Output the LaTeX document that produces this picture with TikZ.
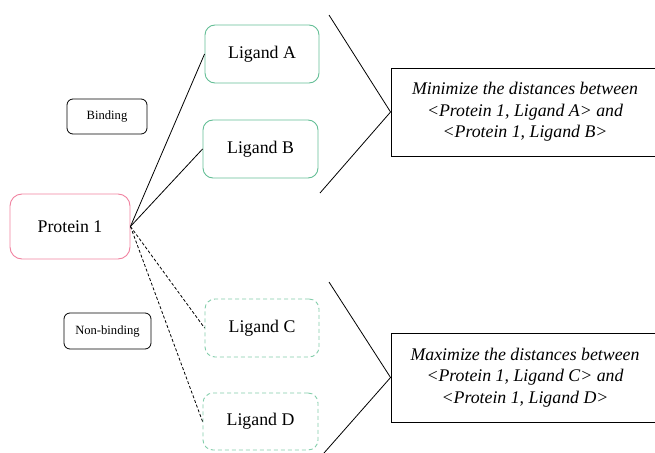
\documentclass[tikz,border=0pt]{standalone}
\usepackage{fontspec}
\setmainfont{Liberation Serif}
\definecolor{pinkb}{RGB}{240,130,160}
\definecolor{greenb}{RGB}{100,190,150}
\definecolor{greenl}{RGB}{130,205,170}
\begin{document}
\begin{tikzpicture}[x=1pt,y=1pt,
  protbox/.style={draw=pinkb, line width=0.9pt, rounded corners=12pt, minimum width=120pt, minimum height=65pt, font=\fontsize{17.8}{21}\selectfont, inner sep=0pt},
  ligbox/.style={draw=greenb, line width=0.9pt, rounded corners=10pt, minimum width=114pt, minimum height=58pt, font=\fontsize{17.8}{21}\selectfont, inner sep=0pt},
  ligdash/.style={ligbox, draw=greenl, dash pattern=on 4pt off 3pt},
  tagbox/.style={draw=black, line width=0.8pt, rounded corners=6pt, font=\fontsize{12.6}{15}\selectfont, inner sep=0pt},
  goalbox/.style={draw=black, line width=0.9pt, minimum width=268pt, align=center, font=\fontsize{17.8}{21.5}\selectfont\itshape, inner sep=0pt},
  conn/.style={draw=black, line width=0.8pt},
  dconn/.style={conn, dash pattern=on 3pt off 2pt}
]
\useasboundingbox (0,0) rectangle (655,-452);
\node[protbox] (p1) at (70,-226.5) {Protein 1};
\node[ligbox] (la) at (262,-54) {Ligand A};
\node[ligbox, minimum width=115pt] (lb) at (260.5,-149) {Ligand B};
\node[ligdash] (lc) at (262,-328) {Ligand C};
\node[ligdash, minimum width=115pt, minimum height=57pt] (ld) at (260.5,-421.5) {Ligand D};
\node[tagbox, minimum width=80pt, minimum height=35pt] (bind) at (107,-116.5) {Binding};
\node[tagbox, minimum width=87pt, minimum height=36pt] (nbind) at (107.5,-331) {Non-binding};
\node[goalbox, minimum height=88pt] (g1) at (525,-112) {Minimize the distances between\\ <Protein 1, Ligand A> and\\ <Protein 1, Ligand B>};
\node[goalbox, minimum height=89pt] (g2) at (525,-377.5) {Maximize the distances between\\ <Protein 1, Ligand C> and\\ <Protein 1, Ligand D>};
\coordinate (t1) at (329,-15);
\coordinate (t2) at (320,-193);
\coordinate (t3) at (329,-282);
\coordinate (t4) at (324,-453);
\draw[conn] (p1.east) -- (la.west);
\draw[conn] (p1.east) -- (lb.west);
\draw[dconn] (p1.east) -- (lc.west);
\draw[dconn] (p1.east) -- (ld.west);
\draw[conn] (t1) -- (g1.west) -- (t2);
\draw[conn] (t3) -- (g2.west) -- (t4);
\end{tikzpicture}
\end{document}
